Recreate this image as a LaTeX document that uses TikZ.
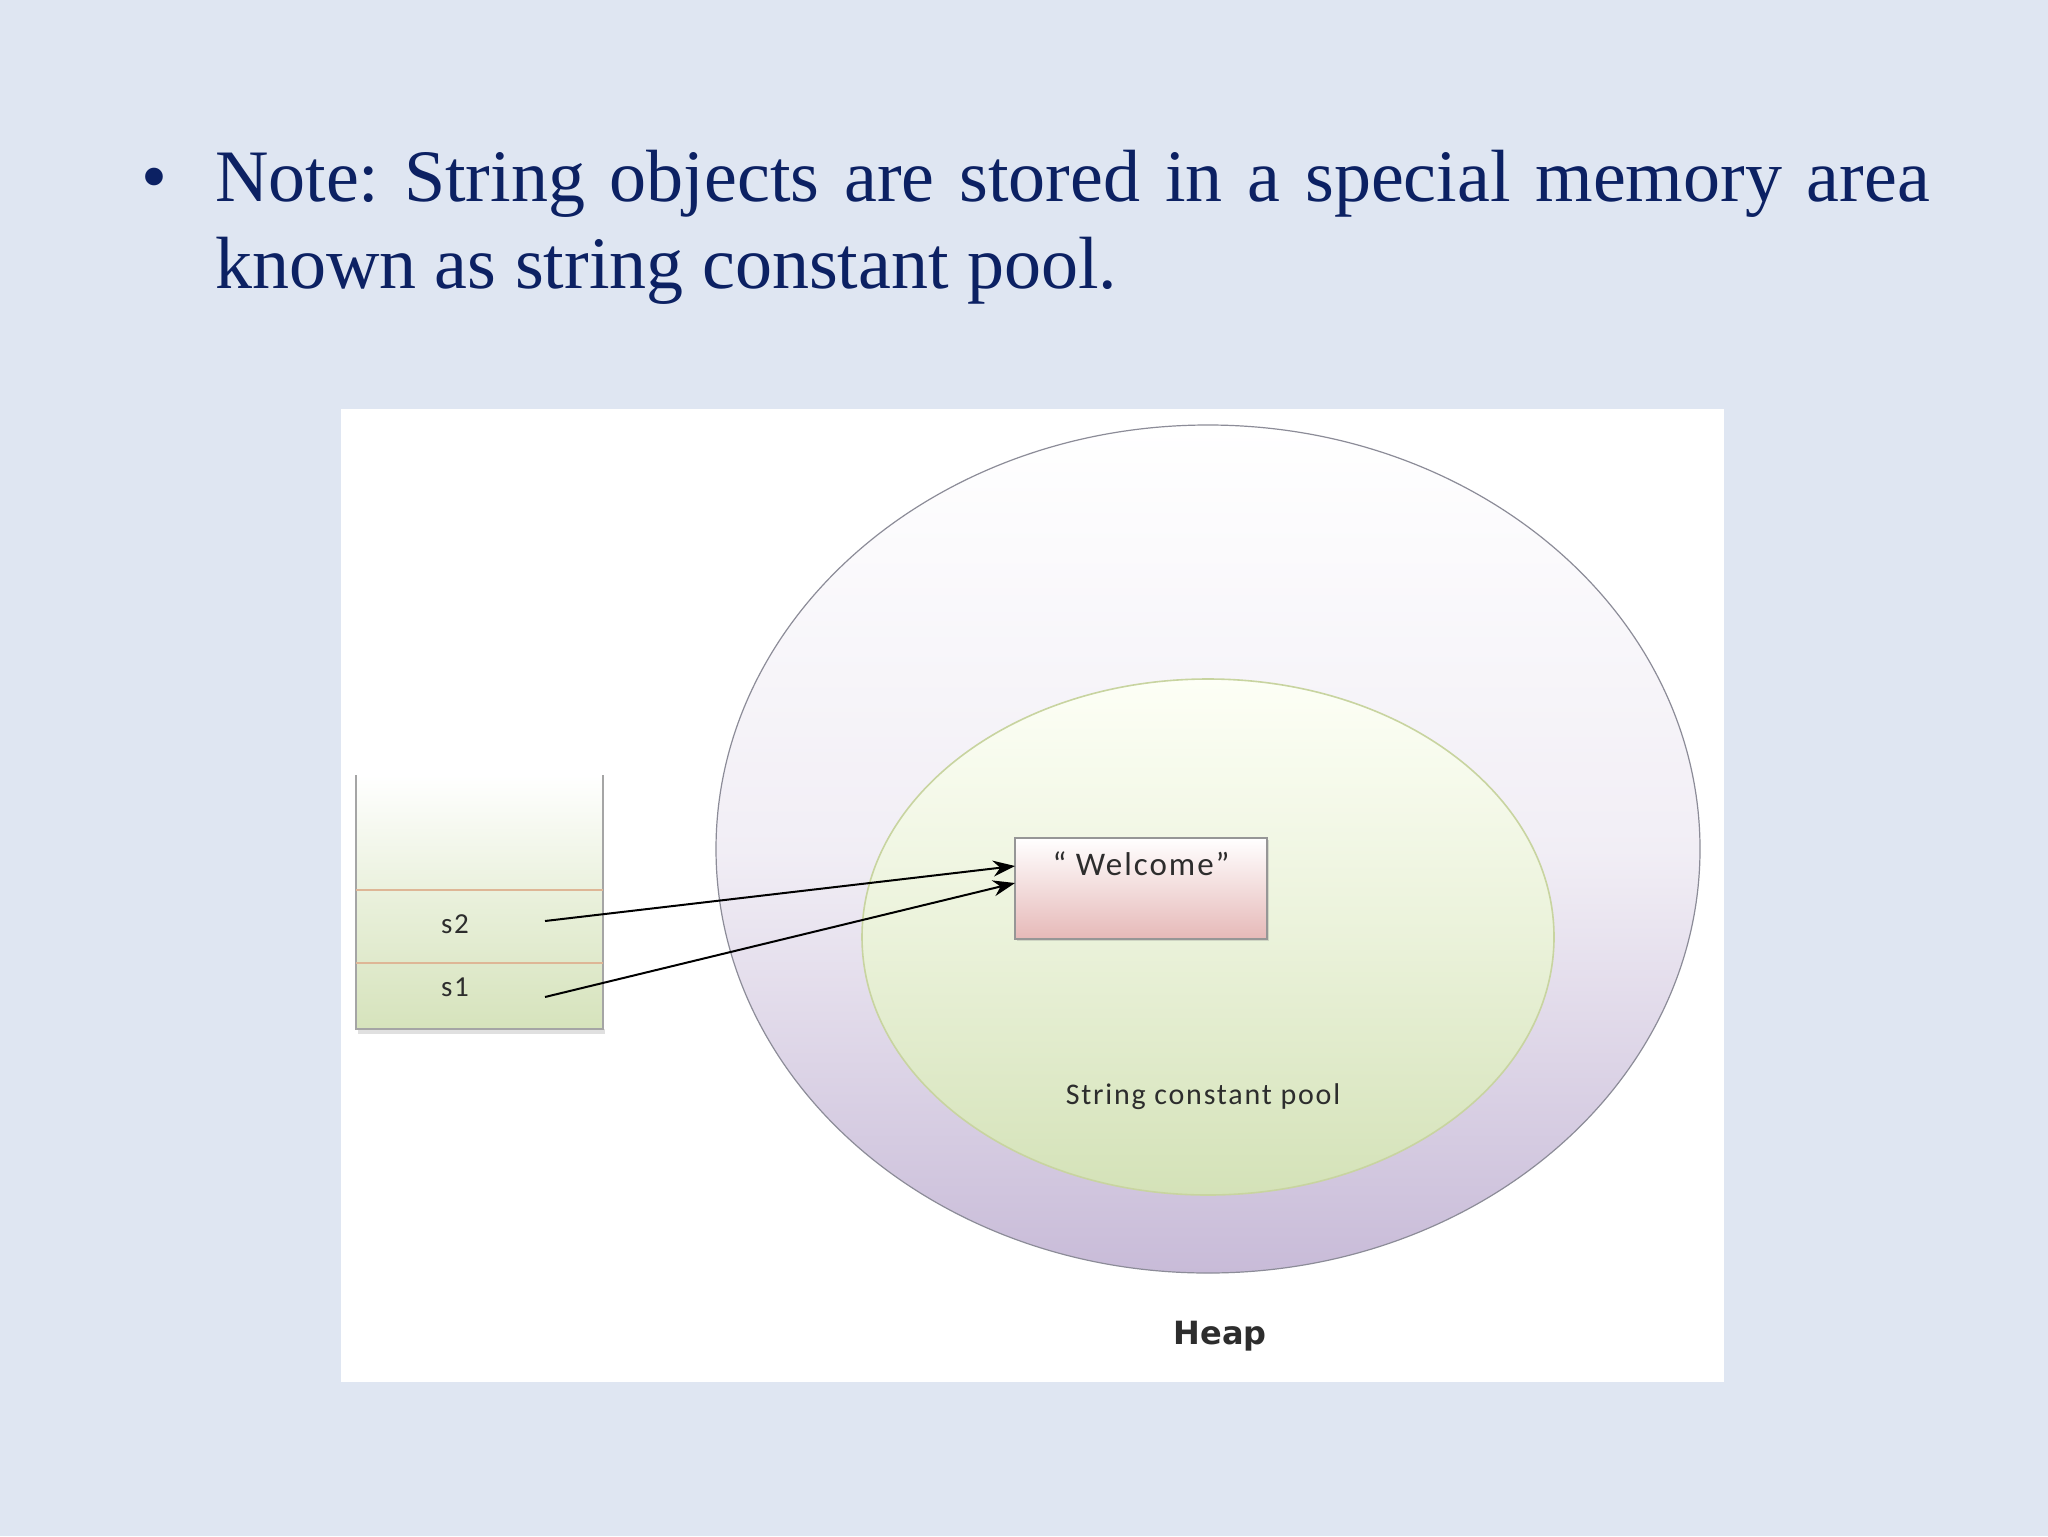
\documentclass[tikz,border=0pt]{standalone}
\usepackage{fontspec}
\setmainfont{Liberation Serif}
\newfontfamily\calfont{Carlito}[LetterSpace=6]
\newfontfamily\dvfont{DejaVu Sans}
\usetikzlibrary{shapes.geometric,arrows.meta,shadows}
\definecolor{bgc}{RGB}{223,230,242}
\definecolor{titlec}{RGB}{12,33,99}
\definecolor{heapbot}{RGB}{200,187,216}
\definecolor{heapline}{RGB}{140,140,152}
\definecolor{pooltop}{RGB}{253,255,246}
\definecolor{poolbot}{RGB}{212,226,184}
\definecolor{poolline}{RGB}{200,212,160}
\definecolor{welbot}{RGB}{230,185,184}
\definecolor{welline}{RGB}{150,150,150}
\definecolor{stackg}{RGB}{214,227,188}
\definecolor{stackline}{RGB}{165,165,165}
\definecolor{sepc}{RGB}{222,182,150}
\definecolor{textc}{RGB}{45,45,45}
\frenchspacing
\begin{document}
\begin{tikzpicture}[x=0.5pt,y=-0.5pt,
  every node/.style={inner sep=0pt,outer sep=0pt},
  titletext/.style={font=\fontsize{37pt}{44pt}\selectfont,text=titlec,anchor=base west},
  heapshape/.style={ellipse,draw=heapline,line width=0.6pt,minimum width=492pt,minimum height=424pt,top color=white,bottom color=heapbot,middle color=heapbot!25!white},
  poolshape/.style={ellipse,draw=poolline,line width=0.8pt,minimum width=346pt,minimum height=258pt,top color=pooltop,bottom color=poolbot,middle color=poolbot!45!pooltop},
  welbox/.style={rectangle,draw=welline,line width=0.6pt,minimum width=126pt,minimum height=50.5pt,top color=white,bottom color=welbot,drop shadow={opacity=0.25,shadow xshift=1pt,shadow yshift=-1.2pt}},
  smalltext/.style={font=\calfont\fontsize{15pt}{18pt}\selectfont,text=textc},
  stackbg/.style={rectangle,minimum width=123.5pt,minimum height=127pt,top color=white,bottom color=stackg,middle color=stackg!55!white},
  cell/.style={rectangle,minimum width=123.5pt},
  stackedge/.style={draw=stackline,line width=0.8pt},
  sepline/.style={draw=sepc,line width=0.7pt},
  arr/.style={draw=black,line width=1pt,-{Stealth[length=11pt,width=8pt]}}
]
\useasboundingbox (0,0) rectangle (2048,1536);
\fill[bgc] (0,0) rectangle (2048,1536);
% title
\node[titletext] (bullet) at (141,201) {•};
\node[titletext] (line1) at (215,201) {\makebox[857.5pt][s]{Note: String objects are stored in a special memory area}};
\node[titletext] (line2) at (215,288) {known as string constant pool.};
% white panel
\fill[white] (341,409) rectangle (1724,1382);
% heap
\node[heapshape] (heap) at (1208,849) {};
\node[poolshape] (pool) at (1208,937) {};
\node[smalltext] (pooltext) at (1203,1097) {String constant pool};
\node[font=\dvfont\bfseries\fontsize{16pt}{18pt}\selectfont,text=textc] (heaptext) at (1220,1336) {Heap};
% welcome box
\node[welbox] (welcome) at (1141,888.5) {};
\node[smalltext,font=\calfont\fontsize{16.5pt}{19pt}\selectfont] (weltext) at (1141,864) {“ Welcome”};
% stack
\node[stackbg] (stack) at (479.5,902) {};
\node[cell,minimum height=36.5pt] (s2cell) at (479.5,926.5) {};
\node[cell,minimum height=33pt] (s1cell) at (479.5,996) {};
\fill[black,opacity=0.12] (358,1029) rectangle (605,1034);
\draw[stackedge] (stack.north west) -- (stack.south west) -- (stack.south east) -- (stack.north east);
\draw[sepline] (s2cell.north west) -- (s2cell.north east);
\draw[sepline] (s1cell.north west) -- (s1cell.north east);
\node[smalltext,font=\calfont\fontsize{14.5pt}{17pt}\selectfont] (s2) at (455,924) {s2};
\node[smalltext,font=\calfont\fontsize{14.5pt}{17pt}\selectfont] (s1) at (455,987) {s1};
% arrows
\coordinate (a2) at (545,921);
\coordinate (a1) at (545,997);
\coordinate (b2) at (1015,866);
\coordinate (b1) at (1015,883);
\draw[arr] (a2) -- (b2);
\draw[arr] (a1) -- (b1);
\end{tikzpicture}
\end{document}
